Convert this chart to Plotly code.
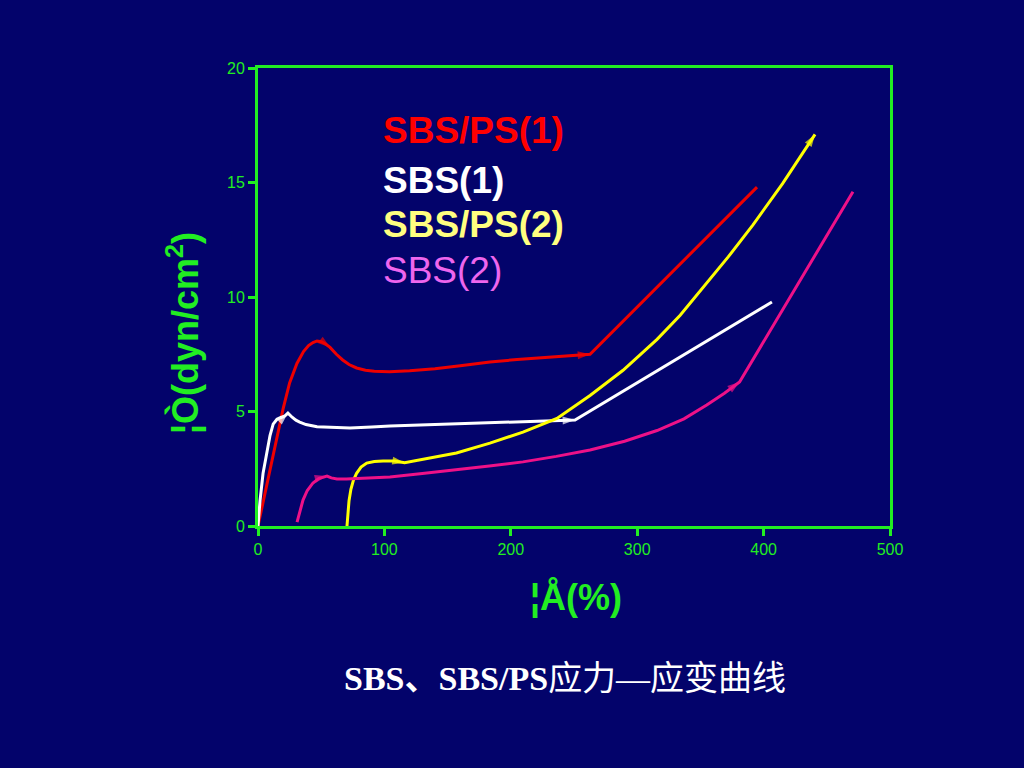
import plotly.graph_objects as go

# SBS/PS(1) - red
red_x = [0, 5, 9.5, 14.5, 19.8, 25, 30.8, 36, 40, 43.5, 46.7, 50, 53.5, 57, 62, 67, 72, 78, 85, 92,
         104, 120, 140, 160, 183.5, 205, 230, 250, 262.7, 394.8]
red_y = [0, 1.3, 2.5, 3.8, 5.1, 6.25, 7.1, 7.62, 7.88, 8.01, 8.08, 8.05, 7.95, 7.8, 7.5, 7.25, 7.05, 6.9, 6.8, 6.76,
         6.74, 6.78, 6.87, 7.0, 7.16, 7.27, 7.38, 7.45, 7.5, 14.8]
red_arrow_x = [57, 262.7]

# SBS(1) - white
white_x = [0, 1.6, 4, 7, 9.5, 12, 15, 18, 20, 22, 23.7, 27, 30, 33, 38, 46.7, 60, 72.8, 90, 104.4,
           140, 180, 220, 250.8, 406.6]
white_y = [0, 1.1, 2.3, 3.2, 3.95, 4.45, 4.66, 4.74, 4.77, 4.84, 4.93, 4.75, 4.62, 4.54, 4.43, 4.33, 4.29, 4.28, 4.32, 4.37,
           4.43, 4.5, 4.57, 4.63, 9.78]
white_arrow_x = [23.7, 250.8]

# SBS/PS(2) - yellow
yel_x = [70.4, 71, 72, 73.5, 75.5, 78, 81.5, 86, 92, 99, 108, 116, 135, 157, 183.5, 209.6, 236.5, 262.7,
         288.8, 315.7, 334, 352, 372, 391.6, 415, 440.7]
yel_y = [0, 0.5, 1.1, 1.6, 2.0, 2.3, 2.57, 2.75, 2.82, 2.84, 2.84, 2.76, 2.95, 3.19, 3.62, 4.1, 4.7, 5.7,
         6.8, 8.15, 9.2, 10.4, 11.75, 13.15, 14.95, 17.1]
yel_arrow_x = [116, 440.7]

# SBS(2) - magenta
mag_x = [30.9, 33, 35.6, 39, 43.5, 48, 51.5, 54.6, 58, 62.5, 70, 80, 92, 104.4, 130, 157, 183, 209.6, 236,
         262.7, 290, 315.7, 337, 355, 369, 381, 470.7]
mag_y = [0.17, 0.65, 1.13, 1.55, 1.88, 2.07, 2.14, 2.18, 2.1, 2.05, 2.05, 2.08, 2.11, 2.14, 2.29, 2.45, 2.62, 2.8, 3.04,
         3.32, 3.7, 4.17, 4.68, 5.28, 5.8, 6.29, 14.6]
mag_arrow_x = [54.6, 381]

legend_names = ["SBS/PS(1)", "SBS(1)", "SBS/PS(2)", "SBS(2)"]

GREEN = "#22ee22"
BG = "#03036b"

fig = go.Figure()

series = [
    (red_x, red_y, red_arrow_x, "#ee0000"),
    (white_x, white_y, white_arrow_x, "#ffffff"),
    (yel_x, yel_y, yel_arrow_x, "#ffff00"),
    (mag_x, mag_y, mag_arrow_x, "#ee1188"),
]
for xs, ys, arrx, col in series:
    fig.add_trace(go.Scatter(x=xs, y=ys, mode="lines", line=dict(color=col, width=3),
                             showlegend=False, hoverinfo="skip"))
    ax, ay = [], []
    for v in arrx:
        i = xs.index(v)
        ax += [xs[i - 1], xs[i]]
        ay += [ys[i - 1], ys[i]]
    sizes = [0, 13] * len(arrx)
    fig.add_trace(go.Scatter(x=ax, y=ay, mode="markers",
                             marker=dict(symbol="arrow", angleref="previous", size=sizes, color=col,
                                         line=dict(width=0)),
                             showlegend=False, hoverinfo="skip"))

axis_common = dict(showline=True, linecolor=GREEN, linewidth=3, mirror=True, showgrid=False, zeroline=False,
                   ticks="outside", tickcolor=GREEN, tickwidth=3, ticklen=7,
                   tickfont=dict(family="Arial, Liberation Sans", size=16, color=GREEN))

fig.update_xaxes(range=[0, 500], tickvals=[0, 100, 200, 300, 400, 500], **axis_common)
fig.update_yaxes(range=[0, 20], tickvals=[0, 5, 10, 15, 20], **axis_common)

legend_colors = ["#ff0000", "#ffffff", "#ffff80", "#ee66ee"]
legend_bold = [True, True, True, False]
legend_y = [130, 180, 225, 270]
for name, col, b, py in zip(legend_names, legend_colors, legend_bold, legend_y):
    fig.add_annotation(text=f"<b>{name}</b>" if b else name, xref="paper", yref="paper",
                       x=(381 - 258) / 632, y=(526 - py) / 458, xanchor="left", yanchor="middle",
                       showarrow=False, font=dict(family="Arial, Liberation Sans", size=37, color=col))

fig.add_annotation(text="<b>¦Ò(dyn/cm<sup>2</sup>)</b>", xref="paper", yref="paper",
                   x=(183 - 258) / 632, y=(526 - 333) / 458, textangle=-90, showarrow=False,
                   xanchor="center", yanchor="middle",
                   font=dict(family="Arial, Liberation Sans", size=36, color=GREEN))
fig.add_annotation(text="<b>¦Å(%)</b>", xref="paper", yref="paper",
                   x=(576 - 258) / 632, y=(526 - 597) / 458, showarrow=False,
                   xanchor="center", yanchor="middle",
                   font=dict(family="Arial, Liberation Sans", size=36, color=GREEN))
fig.add_annotation(text="<b>SBS、SBS/PS</b>应力—应变曲线", xref="paper", yref="paper",
                   x=(565 - 258) / 632, y=(526 - 678) / 458, showarrow=False,
                   xanchor="center", yanchor="middle",
                   font=dict(family="Liberation Serif, Noto Sans CJK SC", size=34, color="#ffffff"))

fig.update_layout(width=1024, height=768, margin=dict(l=258, r=134, t=68, b=242),
                  paper_bgcolor=BG, plot_bgcolor=BG)

fig.write_html("out.html", config={"displayModeBar": False},
               post_script="document.body.style.margin='0';document.body.style.background='%s';" % BG)
